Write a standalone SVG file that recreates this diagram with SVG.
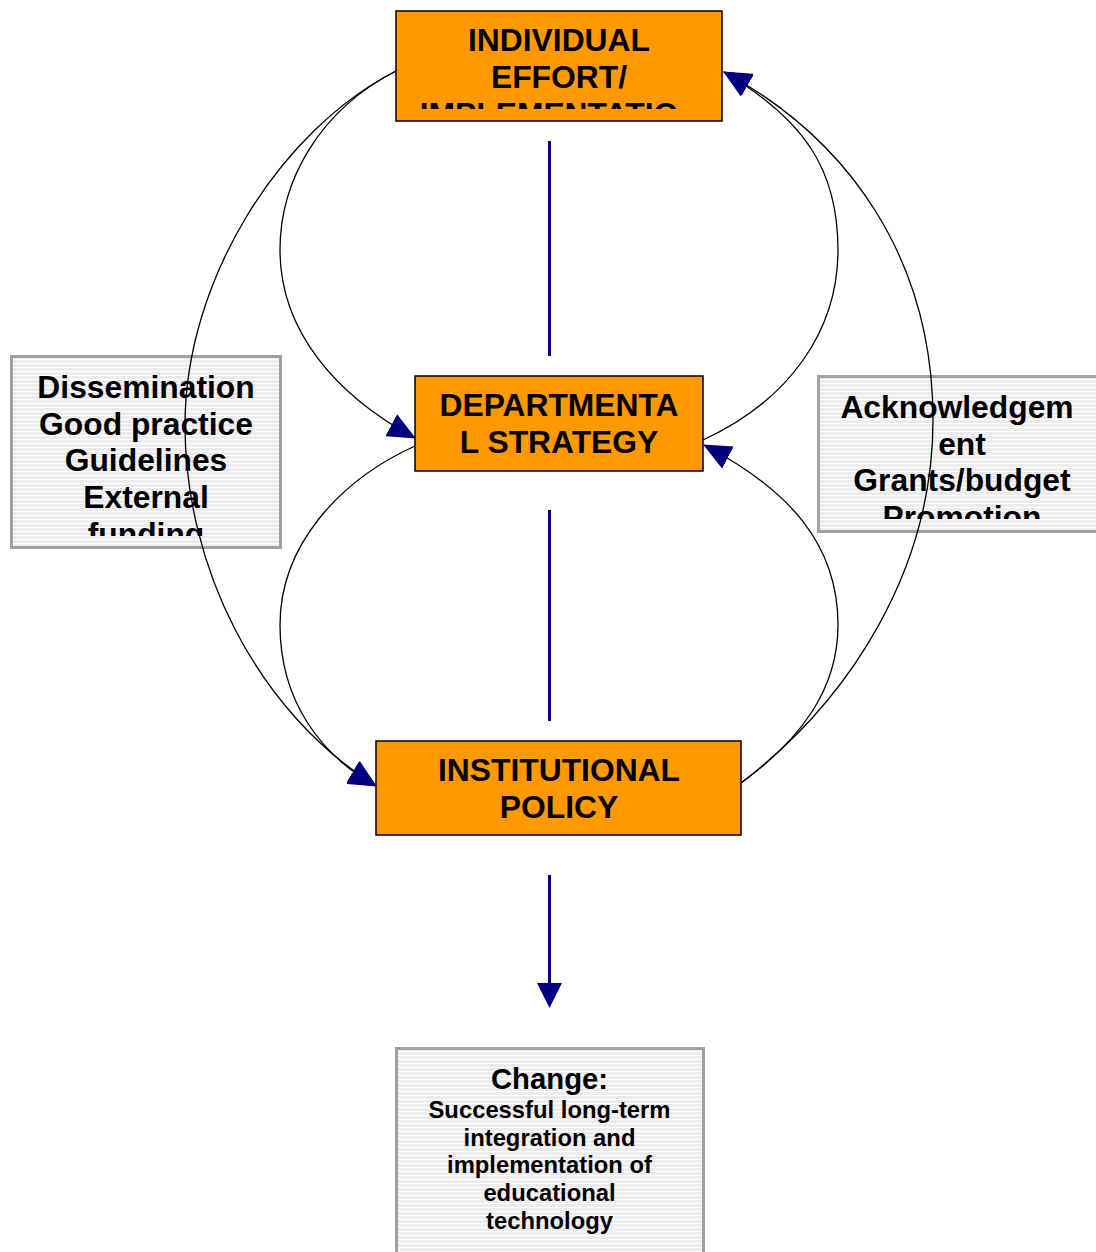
<svg xmlns="http://www.w3.org/2000/svg" width="1096" height="1252" viewBox="0 0 1096 1252">
  <defs>
    <style>
      .box { fill: #ff9900; stroke: #000; stroke-width: 1.5; }
      .note { fill: url(#stripes); stroke: #a0a0a0; stroke-width: 3; }
      .t { font-family: "Liberation Sans", Arial, sans-serif; font-weight: bold; fill: #000; text-anchor: middle; }
      .big { font-size: 31.8px; }
      .mid { font-size: 29.3px; }
      .small { font-size: 23.8px; }
      .curve { fill: none; stroke: #000; stroke-width: 1.3; marker-end: url(#head); }
      .spine { fill: none; stroke: #000080; stroke-width: 3; }
    </style>
    <pattern id="stripes" width="8" height="4" patternUnits="userSpaceOnUse">
      <rect width="8" height="4" fill="#ececec"/>
      <rect y="3" width="8" height="1" fill="#ffffff"/>
    </pattern>
    <marker id="head" markerUnits="userSpaceOnUse" viewBox="0 0 28 25" markerWidth="28" markerHeight="25" refX="27" refY="12.5" orient="auto">
      <path d="M0,0 L28,12.5 L0,25 Z" fill="#000080"/>
    </marker>
    <clipPath id="clipTop"><rect x="396" y="11" width="326" height="98"/></clipPath>
    <clipPath id="clipLeft"><rect x="11" y="356" width="270" height="180"/></clipPath>
    <clipPath id="clipRight"><rect x="818" y="376" width="279" height="143"/></clipPath>
  </defs>

  <!-- side notes -->
  <g id="note-dissemination">
    <rect class="note" x="11.5" y="356.5" width="269" height="191"/>
    <g clip-path="url(#clipLeft)">
      <text class="t big" x="146" y="398">Dissemination</text>
      <text class="t big" x="146" y="435">Good practice</text>
      <text class="t big" x="146" y="471">Guidelines</text>
      <text class="t big" x="146" y="508">External</text>
      <text class="t big" x="146" y="545">funding</text>
    </g>
  </g>

  <g id="note-acknowledgement">
    <rect class="note" x="818.5" y="376.5" width="280" height="155"/>
    <g clip-path="url(#clipRight)">
      <text class="t big" x="957" y="418">Acknowledgem</text>
      <text class="t big" x="962" y="455">ent</text>
      <text class="t big" x="962" y="491">Grants/budget</text>
      <text class="t big" x="962" y="528">Promotion</text>
    </g>
  </g>

  <!-- connectors -->
  <g id="connectors">
    <line class="spine" x1="549.5" y1="141" x2="549.5" y2="356"/>
    <line class="spine" x1="549.5" y1="510" x2="549.5" y2="721"/>
    <line class="spine" x1="549.5" y1="875" x2="549.5" y2="985"/>
    <path d="M537,983 L562,983 L549.5,1008 Z" fill="#000080"/>

    <!-- left side: downward influence -->
    <path class="curve" d="M396,71 C320,110 280,180 280,250 C280,330 335,395 415,438"/>
    <path class="curve" d="M396,71 C280,130 185,280 185,425 C185,565 255,710 376,786"/>
    <path class="curve" d="M415,446 C340,480 280,545 280,625 C280,700 320,755 376,786"/>

    <!-- right side: upward influence -->
    <path class="curve" d="M703,440 C790,400 838,330 838,250 C838,170 805,120 724,72"/>
    <path class="curve" d="M741,783 C850,700 933,570 933,420 C933,260 850,140 724,72"/>
    <path class="curve" d="M741,783 C800,740 838,690 838,625 C838,545 790,490 704,445"/>
  </g>

  <!-- levels -->
  <g id="node-individual">
    <rect class="box" x="396" y="11" width="326" height="110"/>
    <g clip-path="url(#clipTop)">
      <text class="t big" x="559" y="51">INDIVIDUAL</text>
      <text class="t big" x="559" y="88">EFFORT/</text>
      <text class="t big" x="549" y="125">IMPLEMENTATIO</text>
    </g>
  </g>

  <g id="node-departmental">
    <rect class="box" x="415" y="376" width="288" height="95"/>
    <text class="t big" x="559" y="416">DEPARTMENTA</text>
    <text class="t big" x="559" y="453">L STRATEGY</text>
  </g>

  <g id="node-institutional">
    <rect class="box" x="376" y="741" width="365" height="94"/>
    <text class="t big" x="559" y="781">INSTITUTIONAL</text>
    <text class="t big" x="559" y="818">POLICY</text>
  </g>

  <!-- outcome -->
  <g id="node-change">
    <rect class="note" x="396.5" y="1048.5" width="307" height="206"/>
    <text class="t mid" x="549.5" y="1089">Change:</text>
    <text class="t small" x="549.5" y="1118">Successful long-term</text>
    <text class="t small" x="549.5" y="1146">integration and</text>
    <text class="t small" x="549.5" y="1173">implementation of</text>
    <text class="t small" x="549.5" y="1201">educational</text>
    <text class="t small" x="549.5" y="1229">technology</text>
  </g>
</svg>
